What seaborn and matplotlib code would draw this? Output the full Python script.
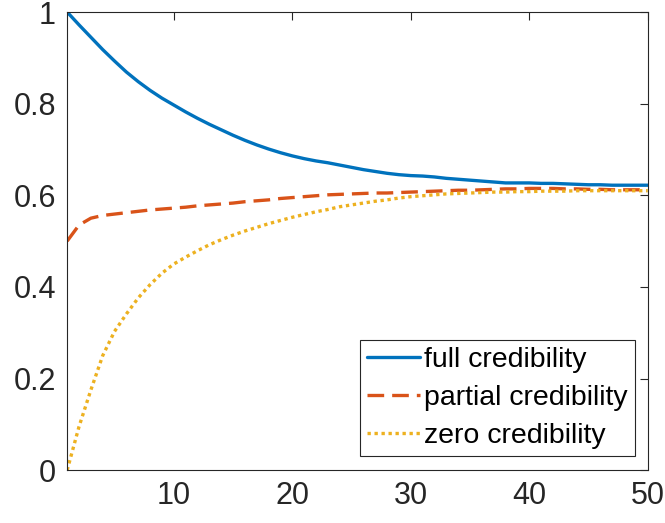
import numpy as np
import pandas as pd
import matplotlib
matplotlib.use('Agg')
import matplotlib.pyplot as plt
import seaborn as sns
from matplotlib.ticker import FuncFormatter

steps = list(range(1, 51))

full_cred = [1.000, 0.972, 0.945, 0.918, 0.893, 0.869, 0.848, 0.829, 0.812, 0.797,
             0.782, 0.768, 0.755, 0.743, 0.731, 0.720, 0.710, 0.701, 0.693, 0.686,
             0.680, 0.675, 0.671, 0.666, 0.661, 0.656, 0.652, 0.648, 0.645, 0.643,
             0.642, 0.640, 0.637, 0.635, 0.633, 0.631, 0.629, 0.627, 0.627, 0.627,
             0.626, 0.626, 0.625, 0.624, 0.623, 0.623, 0.622, 0.622, 0.622, 0.622]

partial_cred = [0.500, 0.535, 0.550, 0.556, 0.559, 0.562, 0.565, 0.568, 0.570, 0.572,
                0.574, 0.577, 0.579, 0.581, 0.583, 0.586, 0.588, 0.590, 0.593, 0.595,
                0.597, 0.599, 0.601, 0.602, 0.603, 0.604, 0.605, 0.605, 0.606, 0.607,
                0.608, 0.609, 0.610, 0.611, 0.611, 0.612, 0.613, 0.614, 0.614, 0.615,
                0.615, 0.615, 0.614, 0.614, 0.613, 0.613, 0.612, 0.612, 0.612, 0.612]

zero_cred = [0.000, 0.095, 0.175, 0.250, 0.303, 0.341, 0.376, 0.405, 0.430, 0.450,
             0.465, 0.479, 0.492, 0.503, 0.513, 0.522, 0.530, 0.538, 0.545, 0.552,
             0.558, 0.564, 0.569, 0.575, 0.579, 0.583, 0.587, 0.590, 0.594, 0.597,
             0.599, 0.601, 0.603, 0.604, 0.605, 0.606, 0.607, 0.607, 0.608, 0.608,
             0.609, 0.609, 0.609, 0.610, 0.610, 0.610, 0.610, 0.610, 0.610, 0.610]

labels = ['full credibility', 'partial credibility', 'zero credibility']
colors = ['#0072BD', '#D95319', '#EDB120']
styles = ['-', (0, (5, 2.4)), (0, (1, 1.1))]

sns.set_style('white')
plt.rcParams['font.family'] = ['Liberation Sans', 'DejaVu Sans']

fig = plt.figure(figsize=(6.65, 5.23), dpi=100)
ax = fig.add_axes([0.101, 0.101, 0.873, 0.876])

for vals, lab, col, ls in zip([full_cred, partial_cred, zero_cred], labels, colors, styles):
    df = pd.DataFrame({'step': steps, 'value': vals})
    sns.lineplot(data=df, x='step', y='value', ax=ax, color=col, linewidth=2.4,
                 label=lab, linestyle=ls)

ax.set_xlim(1, 50)
ax.set_ylim(0, 1)
ax.set_xticks([10, 20, 30, 40, 50])
ax.set_yticks([0, 0.2, 0.4, 0.6, 0.8, 1.0])
ax.yaxis.set_major_formatter(FuncFormatter(lambda v, p: f'{v:g}'))
ax.set_xlabel('')
ax.set_ylabel('')

axcol = '#262626'
for s in ax.spines.values():
    s.set_visible(True)
    s.set_color(axcol)
    s.set_linewidth(0.8)
ax.tick_params(direction='in', length=6, width=0.8, colors=axcol, labelsize=22,
               top=True, right=True, pad=8)

leg = ax.legend(loc='lower right', bbox_to_anchor=(0.978, 0.031), borderaxespad=0,
                fontsize=20.5, frameon=True, fancybox=False, framealpha=1,
                edgecolor=axcol, handlelength=1.87, handletextpad=0.15,
                borderpad=0.25, labelspacing=0.42, labelcolor='black')
leg.get_frame().set_linewidth(0.8)

fig.savefig('out.png', dpi=100)
